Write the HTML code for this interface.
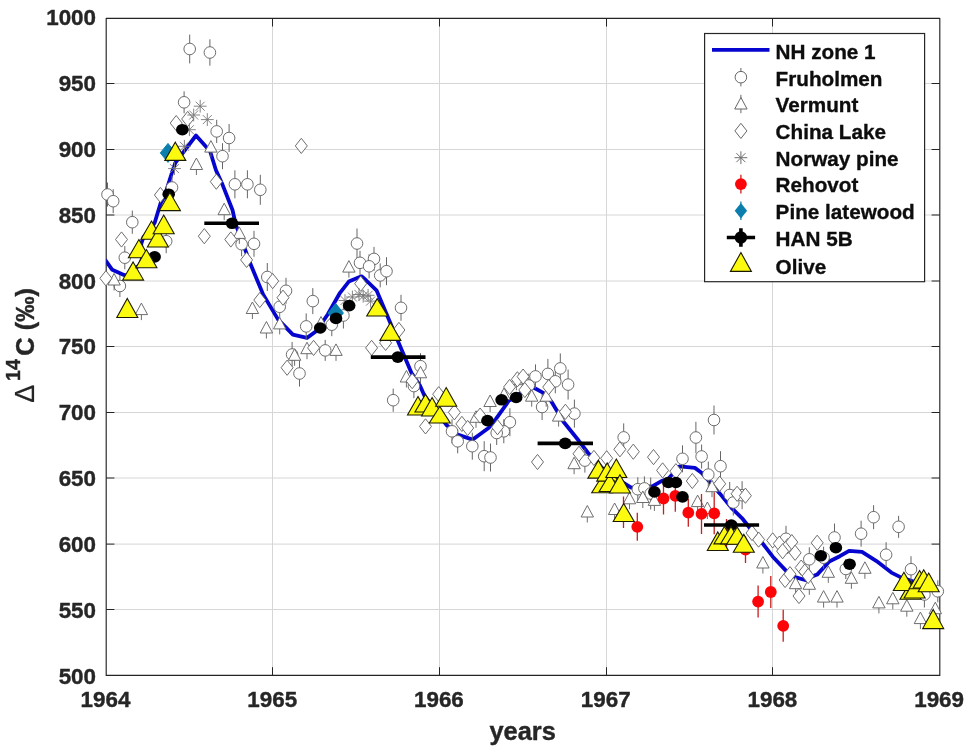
<!DOCTYPE html>
<html lang="en"><head><meta charset="utf-8"><title>Delta 14C 1964-1969</title>
<style>html,body{margin:0;padding:0;background:#fff}body{width:967px;height:752px;overflow:hidden}</style></head>
<body>
<svg width="967" height="752" viewBox="0 0 967 752" style="display:block">
<rect width="967" height="752" fill="#fff"/>
<path d="M272.5 18.3V675.4M439.5 18.3V675.4M606.5 18.3V675.4M772.5 18.3V675.4M106.2 83.5H939.8M106.2 149.5H939.8M106.2 215.0H939.8M106.2 281.0H939.8M106.2 346.5H939.8M106.2 412.5H939.8M106.2 478.0H939.8M106.2 544.1H939.8M106.2 609.5H939.8" stroke="#d6d6d6" stroke-width="1" fill="none"/>
<path d="M106.2 18.3H939.8V675.4H106.2Z" stroke="#242424" stroke-width="1.15" fill="none" stroke-linejoin="round"/>
<path d="M272.5 675.4v-8.2M272.5 18.3v8.2M439.5 675.4v-8.2M439.5 18.3v8.2M606.5 675.4v-8.2M606.5 18.3v8.2M772.5 675.4v-8.2M772.5 18.3v8.2M106.2 83.5h8.2M939.8 83.5h-8.2M106.2 149.5h8.2M939.8 149.5h-8.2M106.2 215.0h8.2M939.8 215.0h-8.2M106.2 281.0h8.2M939.8 281.0h-8.2M106.2 346.5h8.2M939.8 346.5h-8.2M106.2 412.5h8.2M939.8 412.5h-8.2M106.2 478.0h8.2M939.8 478.0h-8.2M106.2 544.1h8.2M939.8 544.1h-8.2M106.2 609.5h8.2M939.8 609.5h-8.2" stroke="#242424" stroke-width="1" fill="none"/>
<clipPath id="c"><rect x="106.2" y="18.3" width="833.5999999999999" height="657.1"/></clipPath>
<g clip-path="url(#c)">
<polyline fill="none" stroke="#0505cf" stroke-width="3.8" stroke-linejoin="round" points="105.0,259.5 112.3,269.8 123.9,274.9 129,276.3 134.8,268.3 139.5,265.3 142,259 141.5,252 141.2,244 143.5,237 150,230 154.7,222.7 160.5,203.5 164.6,196 172.8,170 175.3,162.8 196,135.5 210.1,151.3 215.9,170 222.5,184.6 232.5,210 235.8,224.7 245.7,251.2 250.7,264.6 258.9,284.2 263.1,294.4 278,319.4 292.9,334.6 307,337.9 316.1,331.3 327.7,314.5 340,292.8 348.8,281.6 361.5,276.3 365.8,280 376.5,290.3 389.3,320.4 398.1,341.4 411.4,372.8 419.7,385 424.6,396 446.2,424.7 457.7,434.6 472.6,439.6 480,434.3 489.2,427.4 495.8,419.2 509,400.5 516.2,397 523,391 528,387 533,387.3 542.9,392.6 551.2,401.2 563.5,421.7 578.8,440.8 588.1,453 606,472 631.2,487.7 652.7,486.1 661,481.3 668.5,478.5 674,472.5 679.6,466.4 694.9,467.9 701.5,472.8 709.8,482 719.7,493.4 731.3,507.6 742.9,519.2 751.2,529.7 762.8,543.7 772.8,556.7 785.7,570.4 795.2,577.1 805.1,580 814.4,575.6 817.4,574.4 829.3,561.5 839.8,556.2 849.1,550.8 862,551.8 876.5,561.1 891.4,572.6 901.4,577.6 911.3,580.8 925,586 939.9,592"/>
</g>
<path d="M107.5 182.5V206.5M113.2 189.2V213.2M119.9 275.0V297.0M124.8 246.1V269.3M132.3 210.6V233.8M166.2 229.2V253.2M172 175.5V199.5M184.1 91.3V113.3M189.7 34.6V63.4M209.9 39.3V65.7M216.7 119.8V143.0M222.5 143.2V169.2M229.1 124.0V152.0M234.9 170.3V198.3M247.4 170.3V198.3M260.3 174.8V204.8M241.6 232.2V256.2M254 230.8V256.8M267.3 263.0V291.0M286 277.8V303.8M279.7 294.8V318.8M312.8 288.1V314.1M306.2 313.4V339.4M325.2 339.9V360.9M292.1 342.0V367.0M299.5 360.5V386.5M331.8 313.2V336.2M343.4 302.5V328.5M357 228.5V258.5M360 250.8V274.8M374 246.9V270.9M369.1 254.3V278.3M380.2 263.4V287.4M386.5 257.2V285.2M401 294.8V320.8M420.5 353.2V379.2M393.2 388.6V411.8M413.9 374.1V398.1M452 419.3V443.3M457.7 429.3V453.3M472.3 432.7V459.7M484.2 441.2V471.2M490.5 443.5V471.5M509.9 408.2V436.2M503.8 419.3V443.3M496.7 421.0V445.0M560.3 353.4V383.4M547.9 358.9V388.9M535.5 364.4V388.4M555.3 369.3V393.3M528.8 373.5V397.5M568.1 369.6V399.6M542.1 394.0V420.0M574.4 399.6V427.6M623.7 423.4V451.4M695.9 421.8V453.2M714 405.5V434.5M682.5 445.3V472.3M701.6 444.5V468.5M708.3 461.6V487.6M720.5 451.2V481.2M584.9 448.6V472.6M637.8 477.2V501.2M644.4 476.4V500.4M650.7 477.5V509.5M729.7 482.0V508.0M733.3 489.5V515.5M742.1 481.2V509.2M786 525.8V551.8M809.3 547.3V571.3M834.5 523.5V551.5M845.8 559.0V579.0M873.6 505.2V529.2M898.6 515.8V537.8M861.1 520.7V546.7M886.1 542.2V567.2M911 556.2V582.2M823.6 546.7V568.7M937.8 580.3V602.3M924.4 581.5V607.5" stroke="#666666" stroke-width="1" fill="none"/>
<g fill="#fff" stroke="#666666" stroke-width="0.95">
<circle cx="107.5" cy="194.5" r="5.8"/>
<circle cx="113.2" cy="201.2" r="5.8"/>
<circle cx="119.9" cy="286" r="5.8"/>
<circle cx="124.8" cy="257.7" r="5.8"/>
<circle cx="132.3" cy="222.2" r="5.8"/>
<circle cx="166.2" cy="241.2" r="5.8"/>
<circle cx="172" cy="187.5" r="5.8"/>
<circle cx="184.1" cy="102.3" r="5.8"/>
<circle cx="189.7" cy="49.0" r="5.8"/>
<circle cx="209.9" cy="52.5" r="5.8"/>
<circle cx="216.7" cy="131.4" r="5.8"/>
<circle cx="222.5" cy="156.2" r="5.8"/>
<circle cx="229.1" cy="138.0" r="5.8"/>
<circle cx="234.9" cy="184.3" r="5.8"/>
<circle cx="247.4" cy="184.3" r="5.8"/>
<circle cx="260.3" cy="189.8" r="5.8"/>
<circle cx="241.6" cy="244.2" r="5.8"/>
<circle cx="254" cy="243.8" r="5.8"/>
<circle cx="267.3" cy="277" r="5.8"/>
<circle cx="286" cy="290.8" r="5.8"/>
<circle cx="279.7" cy="306.8" r="5.8"/>
<circle cx="312.8" cy="301.1" r="5.8"/>
<circle cx="306.2" cy="326.4" r="5.8"/>
<circle cx="325.2" cy="350.4" r="5.8"/>
<circle cx="292.1" cy="354.5" r="5.8"/>
<circle cx="299.5" cy="373.5" r="5.8"/>
<circle cx="331.8" cy="324.7" r="5.8"/>
<circle cx="343.4" cy="315.5" r="5.8"/>
<circle cx="357" cy="243.5" r="5.8"/>
<circle cx="360" cy="262.8" r="5.8"/>
<circle cx="374" cy="258.9" r="5.8"/>
<circle cx="369.1" cy="266.3" r="5.8"/>
<circle cx="380.2" cy="275.4" r="5.8"/>
<circle cx="386.5" cy="271.2" r="5.8"/>
<circle cx="401" cy="307.8" r="5.8"/>
<circle cx="420.5" cy="366.2" r="5.8"/>
<circle cx="393.2" cy="400.2" r="5.8"/>
<circle cx="413.9" cy="386.1" r="5.8"/>
<circle cx="452" cy="431.3" r="5.8"/>
<circle cx="457.7" cy="441.3" r="5.8"/>
<circle cx="472.3" cy="446.2" r="5.8"/>
<circle cx="484.2" cy="456.2" r="5.8"/>
<circle cx="490.5" cy="457.5" r="5.8"/>
<circle cx="509.9" cy="422.2" r="5.8"/>
<circle cx="503.8" cy="431.3" r="5.8"/>
<circle cx="496.7" cy="433" r="5.8"/>
<circle cx="560.3" cy="368.4" r="5.8"/>
<circle cx="547.9" cy="373.9" r="5.8"/>
<circle cx="535.5" cy="376.4" r="5.8"/>
<circle cx="555.3" cy="381.3" r="5.8"/>
<circle cx="528.8" cy="385.5" r="5.8"/>
<circle cx="568.1" cy="384.6" r="5.8"/>
<circle cx="542.1" cy="407" r="5.8"/>
<circle cx="574.4" cy="413.6" r="5.8"/>
<circle cx="623.7" cy="437.4" r="5.8"/>
<circle cx="695.9" cy="437.5" r="5.8"/>
<circle cx="714" cy="420" r="5.8"/>
<circle cx="682.5" cy="458.8" r="5.8"/>
<circle cx="701.6" cy="456.5" r="5.8"/>
<circle cx="708.3" cy="474.6" r="5.8"/>
<circle cx="720.5" cy="466.2" r="5.8"/>
<circle cx="584.9" cy="460.6" r="5.8"/>
<circle cx="637.8" cy="489.2" r="5.8"/>
<circle cx="644.4" cy="488.4" r="5.8"/>
<circle cx="650.7" cy="493.5" r="5.8"/>
<circle cx="729.7" cy="495" r="5.8"/>
<circle cx="733.3" cy="502.5" r="5.8"/>
<circle cx="742.1" cy="495.2" r="5.8"/>
<circle cx="786" cy="538.8" r="5.8"/>
<circle cx="809.3" cy="559.3" r="5.8"/>
<circle cx="834.5" cy="537.5" r="5.8"/>
<circle cx="845.8" cy="569" r="5.8"/>
<circle cx="873.6" cy="517.2" r="5.8"/>
<circle cx="898.6" cy="526.8" r="5.8"/>
<circle cx="861.1" cy="533.7" r="5.8"/>
<circle cx="886.1" cy="554.7" r="5.8"/>
<circle cx="911" cy="569.2" r="5.8"/>
<circle cx="823.6" cy="557.7" r="5.8"/>
<circle cx="937.8" cy="591.3" r="5.8"/>
<circle cx="924.4" cy="594.5" r="5.8"/>
</g>
<g fill="#fff" stroke="#666666" stroke-width="0.95">
<path d="M114.1 285.0V290.5M114.1 273.5L120.3 285.0H107.9Z"/>
<path d="M141.4 314.6V320.1M141.4 303.1L147.6 314.6H135.2Z"/>
<path d="M224.2 214.7V220.2M224.2 203.2L230.4 214.7H218.0Z"/>
<path d="M239.3 238.4V243.9M239.3 226.9L245.5 238.4H233.1Z"/>
<path d="M210.9 152.1V157.6M210.9 140.6L217.1 152.1H204.7Z"/>
<path d="M196.4 169.5V175.0M196.4 158.0L202.6 169.5H190.2Z"/>
<path d="M252.4 313.5V319.0M252.4 302.0L258.6 313.5H246.2Z"/>
<path d="M266.4 333.0V338.5M266.4 321.5L272.6 333.0H260.2Z"/>
<path d="M279.7 328.9V334.4M279.7 317.4L285.9 328.9H273.5Z"/>
<path d="M307 353.7V359.2M307 342.2L313.2 353.7H300.8Z"/>
<path d="M336 355.4V360.9M336 343.9L342.2 355.4H329.8Z"/>
<path d="M294.6 360.3V365.8M294.6 348.8L300.8 360.3H288.4Z"/>
<path d="M321 328.0V333.5M321 316.5L327.2 328.0H314.8Z"/>
<path d="M348.9 272.1V277.6M348.9 260.6L355.1 272.1H342.7Z"/>
<path d="M406.4 382.0V387.5M406.4 370.5L412.6 382.0H400.2Z"/>
<path d="M420.5 377.8V383.3M420.5 366.3L426.7 377.8H414.3Z"/>
<path d="M490.1 406.5V412.0M490.1 395.0L496.3 406.5H483.9Z"/>
<path d="M504 399.5V405.0M504 388.0L510.2 399.5H497.8Z"/>
<path d="M476 422.3V427.8M476 410.8L482.2 422.3H469.8Z"/>
<path d="M531.7 401.2V406.7M531.7 389.7L537.9 401.2H525.5Z"/>
<path d="M546.2 401.2V406.7M546.2 389.7L552.4 401.2H540.0Z"/>
<path d="M558.6 421.1V426.6M558.6 409.6L564.8 421.1H552.4Z"/>
<path d="M516.4 384.7V390.2M516.4 373.2L522.6 384.7H510.2Z"/>
<path d="M574.1 468.7V474.2M574.1 457.2L580.3 468.7H567.9Z"/>
<path d="M587.3 517.0V522.5M587.3 505.5L593.5 517.0H581.1Z"/>
<path d="M614.6 514.5V520.0M614.6 503.0L620.8 514.5H608.4Z"/>
<path d="M629.5 503.8V509.3M629.5 492.3L635.7 503.8H623.3Z"/>
<path d="M642.8 502.5V508.0M642.8 491.0L649.0 502.5H636.6Z"/>
<path d="M654.4 505.4V510.9M654.4 493.9L660.6 505.4H648.2Z"/>
<path d="M697.6 506.6V512.1M697.6 495.1L703.8 506.6H691.4Z"/>
<path d="M712 491.7V497.2M712 480.2L718.2 491.7H705.8Z"/>
<path d="M707.4 513.5V519.0M707.4 502.0L713.6 513.5H701.2Z"/>
<path d="M762.9 568.0V573.5M762.9 556.5L769.1 568.0H756.7Z"/>
<path d="M795.6 588.7V594.2M795.6 577.2L801.8 588.7H789.4Z"/>
<path d="M809.3 589.3V594.8M809.3 577.8L815.5 589.3H803.1Z"/>
<path d="M828.3 577.3V582.8M828.3 565.8L834.5 577.3H822.1Z"/>
<path d="M851.4 583.3V588.8M851.4 571.8L857.6 583.3H845.2Z"/>
<path d="M864.9 573.3V578.8M864.9 561.8L871.1 573.3H858.7Z"/>
<path d="M823.6 602.1V607.6M823.6 590.6L829.8 602.1H817.4Z"/>
<path d="M837 602.1V607.6M837 590.6L843.2 602.1H830.8Z"/>
<path d="M878.9 607.9V613.4M878.9 596.4L885.1 607.9H872.7Z"/>
<path d="M892.8 603.8V609.3M892.8 592.3L899.0 603.8H886.6Z"/>
<path d="M906.8 611.2V616.7M906.8 599.7L913.0 611.2H900.6Z"/>
<path d="M920.4 623.6V629.1M920.4 612.1L926.6 623.6H914.2Z"/>
<path d="M935.3 613.7V619.2M935.3 602.2L941.5 613.7H929.1Z"/>
</g>
<g fill="#fff" stroke="#666666" stroke-width="0.95">
<path d="M105.9 270.7L111.9 278.3L105.9 285.9L99.9 278.3Z"/>
<path d="M121.5 231.9L127.5 239.5L121.5 247.1L115.5 239.5Z"/>
<path d="M160.4 187.4L166.4 195L160.4 202.6L154.4 195Z"/>
<path d="M176.2 115.5L182.2 123.1L176.2 130.7L170.2 123.1Z"/>
<path d="M187.7 111.4L193.7 119L187.7 126.6L181.7 119Z"/>
<path d="M216.3 174.1L222.3 181.7L216.3 189.3L210.3 181.7Z"/>
<path d="M204.3 228.6L210.3 236.2L204.3 243.8L198.3 236.2Z"/>
<path d="M230.8 231.9L236.8 239.5L230.8 247.1L224.8 239.5Z"/>
<path d="M246.6 252.3L252.6 259.9L246.6 267.5L240.6 259.9Z"/>
<path d="M272.7 273.5L278.7 281.1L272.7 288.7L266.7 281.1Z"/>
<path d="M259.8 292.4L265.8 300L259.8 307.6L253.8 300Z"/>
<path d="M283 290.1L289.0 297.7L283 305.3L277.0 297.7Z"/>
<path d="M301.3 138.3L307.3 145.9L301.3 153.5L295.3 145.9Z"/>
<path d="M313.6 340.3L319.6 347.9L313.6 355.5L307.6 347.9Z"/>
<path d="M287.1 360.1L293.1 367.7L287.1 375.3L281.1 367.7Z"/>
<path d="M371.6 340.3L377.6 347.9L371.6 355.5L365.6 347.9Z"/>
<path d="M385.6 335.3L391.6 342.9L385.6 350.5L379.6 342.9Z"/>
<path d="M398.9 322.4L404.9 330L398.9 337.6L392.9 330Z"/>
<path d="M360.7 276.1L366.7 283.7L360.7 291.3L354.7 283.7Z"/>
<path d="M412.2 373.5L418.2 381.1L412.2 388.7L406.2 381.1Z"/>
<path d="M438.7 386.6L444.7 394.2L438.7 401.8L432.7 394.2Z"/>
<path d="M425.5 418.8L431.5 426.4L425.5 434.0L419.5 426.4Z"/>
<path d="M454.4 404.7L460.4 412.3L454.4 419.9L448.4 412.3Z"/>
<path d="M461.9 416.3L467.9 423.9L461.9 431.5L455.9 423.9Z"/>
<path d="M467.7 420.4L473.7 428L467.7 435.6L461.7 428Z"/>
<path d="M480.1 408.0L486.1 415.6L480.1 423.2L474.1 415.6Z"/>
<path d="M497.5 419.6L503.5 427.2L497.5 434.8L491.5 427.2Z"/>
<path d="M509.6 379.4L515.6 387.0L509.6 394.6L503.6 387.0Z"/>
<path d="M517.4 371.7L523.4 379.3L517.4 386.9L511.4 379.3Z"/>
<path d="M523.1 369.0L529.1 376.6L523.1 384.2L517.1 376.6Z"/>
<path d="M524.8 382.4L530.8 390L524.8 397.6L518.8 390Z"/>
<path d="M548.7 379.5L554.7 387.1L548.7 394.7L542.7 387.1Z"/>
<path d="M537.5 454.4L543.5 462L537.5 469.6L531.5 462Z"/>
<path d="M565.4 404.2L571.4 411.8L565.4 419.4L559.4 411.8Z"/>
<path d="M619.9 441.7L625.9 449.3L619.9 456.9L613.9 449.3Z"/>
<path d="M633.3 444.1L639.3 451.7L633.3 459.3L627.3 451.7Z"/>
<path d="M653.5 449.5L659.5 457.1L653.5 464.7L647.5 457.1Z"/>
<path d="M606.7 450.7L612.7 458.3L606.7 465.9L600.7 458.3Z"/>
<path d="M579 446.2L585.0 453.8L579 461.4L573.0 453.8Z"/>
<path d="M593.9 450.3L599.9 457.9L593.9 465.5L587.9 457.9Z"/>
<path d="M662.6 462.8L668.6 470.4L662.6 478.0L656.6 470.4Z"/>
<path d="M675.9 463.6L681.9 471.2L675.9 478.8L669.9 471.2Z"/>
<path d="M692.3 473.4L698.3 481L692.3 488.6L686.3 481Z"/>
<path d="M719.7 476.2L725.7 483.8L719.7 491.4L713.7 483.8Z"/>
<path d="M737.1 486.2L743.1 493.8L737.1 501.4L731.1 493.8Z"/>
<path d="M745.4 488.1L751.4 495.7L745.4 503.3L739.4 495.7Z"/>
<path d="M772.7 532.8L778.7 540.4L772.7 548.0L766.7 540.4Z"/>
<path d="M779.3 536.1L785.3 543.7L779.3 551.3L773.3 543.7Z"/>
<path d="M787.6 538.6L793.6 546.2L787.6 553.8L781.6 546.2Z"/>
<path d="M791.8 534.5L797.8 542.1L791.8 549.7L785.8 542.1Z"/>
<path d="M795.1 545.2L801.1 552.8L795.1 560.4L789.1 552.8Z"/>
<path d="M782.6 543.6L788.6 551.2L782.6 558.8L776.6 551.2Z"/>
<path d="M758.6 532.0L764.6 539.6L758.6 547.2L752.6 539.6Z"/>
<path d="M752 525.4L758.0 533L752 540.6L746.0 533Z"/>
<path d="M817.2 535.2L823.2 542.8L817.2 550.4L811.2 542.8Z"/>
<path d="M785.1 572.4L791.1 580L785.1 587.6L779.1 580Z"/>
<path d="M790 566.6L796.0 574.2L790 581.8L784.0 574.2Z"/>
<path d="M801.2 560.0L807.2 567.6L801.2 575.2L795.2 567.6Z"/>
<path d="M804.8 564.0L810.8 571.6L804.8 579.2L798.8 571.6Z"/>
<path d="M808.2 568.4L814.2 576.0L808.2 583.6L802.2 576.0Z"/>
<path d="M799 588.4L805.0 596L799 603.6L793.0 596Z"/>
</g>
<path d="M193.8 106.2H206.6M200.2 99.8V112.6M195.7 101.7L204.7 110.7M195.7 110.7L204.7 101.7M187.3 115H200.1M193.7 108.6V121.4M189.2 110.5L198.2 119.5M189.2 119.5L198.2 110.5M200.9 119.6H213.7M207.3 113.2V126.0M202.8 115.1L211.8 124.1M202.8 124.1L211.8 115.1M183.0 129.7H195.8M189.4 123.3V136.1M184.9 125.2L193.9 134.2M184.9 134.2L193.9 125.2M178.0 146.3H190.8M184.4 139.9V152.7M179.9 141.8L188.9 150.8M179.9 150.8L188.9 141.8M168.1 168.6H180.9M174.5 162.2V175.0M170.0 164.1L179.0 173.1M170.0 173.1L179.0 164.1M346.0 297H358.8M352.4 290.6V303.4M347.9 292.5L356.9 301.5M347.9 301.5L356.9 292.5M352.6 294.5H365.4M359 288.1V300.9M354.5 290.0L363.5 299.0M354.5 299.0L363.5 290.0M356.8 296.2H369.6M363.2 289.8V302.6M358.7 291.7L367.7 300.7M358.7 300.7L367.7 291.7M361.7 295.3H374.5M368.1 288.9V301.7M363.6 290.8L372.6 299.8M363.6 299.8L372.6 290.8M364.2 301.1H377.0M370.6 294.7V307.5M366.1 296.6L375.1 305.6M366.1 305.6L375.1 296.6M338.6 300.5H351.4M345 294.1V306.9M340.5 296.0L349.5 305.0M340.5 305.0L349.5 296.0" stroke="#777" stroke-width="0.9" fill="none"/>
<path d="M637.3 512.8V540.8M663.5 482.5V514.5M675.3 479.8V511.8M688.3 498.7V526.7M701.5 493.9V533.9M714.2 492.3V534.3M745.5 536.3V562.9M726.5 519.0V550.0M758.1 585.6V617.6M770.8 576.0V608.0M783.2 609.8V641.8M623.5 496.5V528" stroke="#c81e1e" stroke-width="1.3" fill="none"/>
<g fill="#fc0509">
<circle cx="637.3" cy="526.8" r="5.9"/>
<circle cx="663.5" cy="498.5" r="5.9"/>
<circle cx="675.3" cy="495.8" r="5.9"/>
<circle cx="688.3" cy="512.7" r="5.9"/>
<circle cx="701.5" cy="513.9" r="5.9"/>
<circle cx="714.2" cy="513.3" r="5.9"/>
<circle cx="745.5" cy="549.6" r="5.9"/>
<circle cx="726.5" cy="534.5" r="5.9"/>
<circle cx="758.1" cy="601.6" r="5.9"/>
<circle cx="770.8" cy="592" r="5.9"/>
<circle cx="783.2" cy="625.8" r="5.9"/>
</g>
<g fill="#0a7fae" stroke="#0a7fae" stroke-width="1">
<path d="M168 143.4L175.7 152.9L168 162.4L160.3 152.9Z"/>
<path d="M335.7 303.5L343.4 313L335.7 322.5L328.0 313Z"/>
</g>
<g fill="#000" stroke="#000">
<path d="M204.3 223.3H259" stroke-width="3.6"/>
<ellipse cx="232" cy="223.3" rx="6.3" ry="5.8" stroke="none"/>
<path d="M370.8 357.1H425.5" stroke-width="3.6"/>
<ellipse cx="397.8" cy="357.1" rx="6.3" ry="5.8" stroke="none"/>
<path d="M537.6 443.4H593" stroke-width="3.6"/>
<ellipse cx="565.2" cy="443.4" rx="6.3" ry="5.8" stroke="none"/>
<path d="M704 525H759.1" stroke-width="3.6"/>
<ellipse cx="731.3" cy="525" rx="6.3" ry="5.8" stroke="none"/>
<ellipse cx="182.3" cy="129.7" rx="6.3" ry="5.8" stroke="none"/>
<ellipse cx="168.7" cy="194.2" rx="6.3" ry="5.8" stroke="none"/>
<ellipse cx="154.6" cy="256.9" rx="6.3" ry="5.8" stroke="none"/>
<ellipse cx="320.2" cy="328" rx="6.3" ry="5.8" stroke="none"/>
<ellipse cx="336" cy="318.4" rx="6.3" ry="5.8" stroke="none"/>
<ellipse cx="349.2" cy="305.6" rx="6.3" ry="5.8" stroke="none"/>
<ellipse cx="487.5" cy="420.6" rx="6.3" ry="5.8" stroke="none"/>
<ellipse cx="501.6" cy="399.8" rx="6.3" ry="5.8" stroke="none"/>
<ellipse cx="516.2" cy="397.5" rx="6.3" ry="5.8" stroke="none"/>
<ellipse cx="654.4" cy="491.9" rx="6.3" ry="5.8" stroke="none"/>
<ellipse cx="668.4" cy="482.5" rx="6.3" ry="5.8" stroke="none"/>
<ellipse cx="675.9" cy="482.5" rx="6.3" ry="5.8" stroke="none"/>
<ellipse cx="682.5" cy="496.9" rx="6.3" ry="5.8" stroke="none"/>
<ellipse cx="820.8" cy="555.8" rx="6.3" ry="5.8" stroke="none"/>
<ellipse cx="835.9" cy="547.7" rx="6.3" ry="5.8" stroke="none"/>
<ellipse cx="849.6" cy="564.2" rx="6.3" ry="5.8" stroke="none"/>
</g>
<g fill="#fcfa0f" stroke="#1a1a00" stroke-width="1.1" stroke-linejoin="miter">
<path d="M127.3 298.5L137.8 317.5H116.8Z"/>
<path d="M133.1 261.9L143.6 280.1H122.6Z"/>
<path d="M138.9 239.5L149.4 257.7H128.4Z"/>
<path d="M146.4 249.5L156.9 267.7H135.9Z"/>
<path d="M151.5 221L162.0 239.2H141.0Z"/>
<path d="M157.9 228.6L168.4 247H147.4Z"/>
<path d="M163.7 215L174.2 233.7H153.2Z"/>
<path d="M169.9 192.4L180.4 210.6H159.4Z"/>
<path d="M175.3 142.2L185.8 160.4H164.8Z"/>
<path d="M377.2 298.6L387.7 316H366.7Z"/>
<path d="M390.4 322.5L400.9 340.4H379.9Z"/>
<path d="M418 396.6L428.5 415H407.5Z"/>
<path d="M425.5 394.2L436.0 412H415.0Z"/>
<path d="M432.1 397.5L442.6 416H421.6Z"/>
<path d="M439.8 406.5L450.3 423H429.3Z"/>
<path d="M446.2 387.6L456.7 406.2H435.7Z"/>
<path d="M598.4 460.4L608.9 478.1H587.9Z"/>
<path d="M602.2 476L612.7 492.7H591.7Z"/>
<path d="M607.2 462.9L617.7 481.1H596.7Z"/>
<path d="M609.7 474L620.2 491.5H599.2Z"/>
<path d="M616.3 459.1L626.8 477.5H605.8Z"/>
<path d="M619.9 474.8L630.4 493H609.4Z"/>
<path d="M623.7 503.5L634.2 521.5H613.2Z"/>
<path d="M717.8 531.9L728.3 550.5H707.3Z"/>
<path d="M724.4 526.5L734.9 543.9H713.9Z"/>
<path d="M731 526.5L741.5 543.9H720.5Z"/>
<path d="M737.2 527L747.7 544.3H726.7Z"/>
<path d="M743.8 534.4L754.3 552.2H733.3Z"/>
<path d="M910.5 581.4L921.0 599.3H900.0Z"/>
<path d="M903.9 572.3L914.4 590.5H893.4Z"/>
<path d="M914.6 580L925.1 598H904.1Z"/>
<path d="M919.6 570.6L930.1 588.8H909.1Z"/>
<path d="M923.7 569.8L934.2 588H913.2Z"/>
<path d="M928.7 573.1L939.2 591.7H918.2Z"/>
<path d="M933.2 609.5L943.7 628.6H922.7Z"/>
</g>
<g font-family="Liberation Sans, sans-serif" font-weight="bold" fill="#262626" stroke="#262626" stroke-width="0.4" stroke-linejoin="round">
<g font-size="22.4" text-anchor="end">
<text x="96.0" y="25.1">1000</text>
<text x="96.0" y="90.9">950</text>
<text x="96.0" y="156.8">900</text>
<text x="96.0" y="222.6">850</text>
<text x="96.0" y="288.5">800</text>
<text x="96.0" y="354.3">750</text>
<text x="96.0" y="420.1">700</text>
<text x="96.0" y="486.0">650</text>
<text x="96.0" y="551.8">600</text>
<text x="96.0" y="617.7">550</text>
<text x="96.0" y="683.5">500</text>
</g>
<g font-size="22.4" text-anchor="middle">
<text x="105.5" y="706.5">1964</text>
<text x="272.2" y="706.5">1965</text>
<text x="438.9" y="706.5">1966</text>
<text x="605.7" y="706.5">1967</text>
<text x="772.4" y="706.5">1968</text>
<text x="939.1" y="706.5">1969</text>
</g>
<text x="522.6" y="739.5" font-size="25.4" text-anchor="middle">years</text>
<g transform="translate(33.6 402.6) rotate(-90)" font-size="25.4"><text x="-0.2" y="0" font-size="27" font-weight="normal" stroke-width="0.2">&#916;</text><text x="21.6" y="-13.2" font-size="19.6">14</text><text x="46.9" y="0">C (&#8240;)</text></g>
</g>
<rect x="704.6" y="33.5" width="220.0" height="248.2" fill="#fff" stroke="#262626" stroke-width="1.2"/>
<path d="M712 49.800000000000004H769.5" stroke="#0505cf" stroke-width="3.8"/>
<path d="M740.9 68.0V86.4" stroke="#666666" stroke-width="1"/><circle cx="740.9" cy="77.2" r="5.8" fill="#fff" stroke="#666666"/>
<path d="M740.9 94.8V113.2" stroke="#666666" stroke-width="1"/><path d="M740.9 97.5L747.1 109.0H734.7Z" fill="#fff" stroke="#666666"/>
<path d="M740.9 123.3L746.9 130.9L740.9 138.5L734.9 130.9Z" fill="#fff" stroke="#666666"/>
<path d="M734.5 157.7H747.3M740.9 151.3V164.1M736.4 153.2L745.4 162.2M736.4 162.2L745.4 153.2" stroke="#6e6e6e" fill="none"/>
<path d="M740.9 174.8V193.4" stroke="#c81e1e" stroke-width="1.3"/><circle cx="740.9" cy="184.1" r="5.9" fill="#fc0509"/>
<path d="M740.9 201.4V220.0" stroke="#0a7fae" stroke-width="1.2"/><path d="M740.9 202.9L747.1 210.7L740.9 218.5L734.7 210.7Z" fill="#0a7fae"/>
<path d="M726.8 237.5H755.1M740.9 228.3V246.7" stroke="#000" stroke-width="3.6"/><circle cx="740.9" cy="237.5" r="6.2" fill="#000"/>
<path d="M740.9 252.6L751.4 271.4H730.4Z" fill="#fcfa0f" stroke="#1a1a00" stroke-width="1.1"/>
<g font-family="Liberation Sans, sans-serif" font-weight="bold" font-size="20.7" fill="#0d0d0d" stroke="#0d0d0d" stroke-width="0.35" stroke-linejoin="round">
<text x="775.6" y="58.5">NH zone 1</text>
<text x="775.6" y="85.8">Fruholmen</text>
<text x="775.6" y="112.4">Vermunt</text>
<text x="775.6" y="139.1">China Lake</text>
<text x="775.6" y="165.6">Norway pine</text>
<text x="775.6" y="192.1">Rehovot</text>
<text x="775.6" y="218.8">Pine latewood</text>
<text x="775.6" y="246.2">HAN 5B</text>
<text x="775.6" y="274.1">Olive</text>
</g>
</svg>
</body></html>
